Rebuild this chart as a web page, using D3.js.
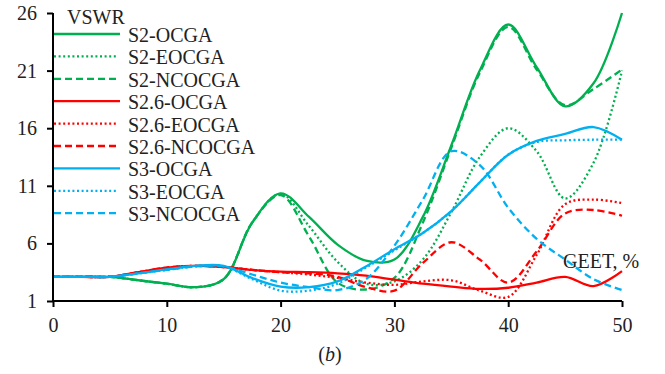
<!DOCTYPE html>
<html>
<head>
<meta charset="utf-8">
<script src="https://cdn.jsdelivr.net/npm/d3@7"></script>
<style>
  body { margin: 0; background: #fff; }
  text { font-family: "Liberation Serif", "Times New Roman", serif; fill: #222; }
</style>
</head>
<body>
<div id="chart-area"></div>
<script>

// GEET, %  (x values shared by every series)
var geet = [0, 2.5, 5, 7.5, 10, 12.5, 15, 17.5, 20, 22.5, 25, 27.5, 30, 32.5, 35, 37.5, 40, 42.5, 45, 47.5, 50];

var s2_ocga    = [3.1, 3.1, 3.1, 2.8, 2.5, 2.2, 2.9, 7.8, 10.35, 8.3, 5.9, 4.5, 4.6, 8.3, 14.5, 21.0, 25.0, 21.3, 17.9, 19.9, 26.0];
var s2_eocga   = [3.1, 3.1, 3.1, 2.8, 2.5, 2.2, 2.9, 7.8, 10.3, 7.5, 4.4, 2.5, 2.7, 4.6, 8.7, 13.5, 16.0, 14.0, 9.9, 13.0, 21.0];
var s2_ncocga  = [3.1, 3.1, 3.1, 2.8, 2.5, 2.2, 2.9, 7.8, 10.2, 6.6, 2.6, 2.0, 3.0, 7.8, 14.3, 20.8, 24.8, 21.1, 18.0, 19.4, 21.1];
var s26_ocga   = [3.1, 3.1, 3.1, 3.5, 3.9, 4.05, 3.95, 3.7, 3.55, 3.5, 3.4, 3.2, 2.85, 2.5, 2.25, 2.05, 2.15, 2.6, 3.1, 2.3, 3.6];
var s26_eocga  = [3.1, 3.1, 3.1, 3.5, 3.9, 4.05, 3.95, 3.7, 3.5, 3.3, 3.0, 2.6, 2.4, 2.7, 2.8, 1.9, 1.35, 5.0, 9.4, 9.8, 9.5];
var s26_ncocga = [3.1, 3.1, 3.1, 3.5, 3.9, 4.05, 3.95, 3.7, 3.5, 3.4, 3.1, 2.2, 1.9, 4.3, 6.1, 4.6, 2.6, 5.3, 8.6, 8.9, 8.4];
var s3_ocga    = [3.1, 3.1, 3.1, 3.4, 3.75, 4.05, 4.05, 3.0, 2.25, 2.2, 2.7, 4.0, 5.5, 6.9, 8.8, 11.3, 13.7, 14.9, 15.5, 16.1, 15.0];
var s3_eocga   = [3.1, 3.1, 3.1, 3.4, 3.7, 4.0, 4.0, 2.9, 1.9, 1.9, 2.5, 3.9, 5.4, 6.9, 8.8, 11.3, 13.7, 14.8, 14.95, 15.0, 15.0];
var s3_ncocga  = [3.1, 3.1, 3.1, 3.4, 3.7, 4.0, 4.0, 3.3, 2.6, 2.2, 1.95, 2.9, 5.8, 9.8, 14.0, 12.8, 9.1, 6.4, 4.6, 2.9, 1.95];

var names = ["S2-OCGA", "S2-EOCGA", "S2-NCOCGA", "S2.6-OCGA", "S2.6-EOCGA", "S2.6-NCOCGA", "S3-OCGA", "S3-EOCGA", "S3-NCOCGA"];
var values = [s2_ocga, s2_eocga, s2_ncocga, s26_ocga, s26_eocga, s26_ncocga, s3_ocga, s3_eocga, s3_ncocga];

var xTicks = [0, 10, 20, 30, 40, 50];
var yTicks = [1, 6, 11, 16, 21, 26];

var colors = ["#00b050", "#00b050", "#00b050", "#ff0000", "#ff0000", "#ff0000", "#00b0f0", "#00b0f0", "#00b0f0"];
var dashes = [null, "2,2.6", "7,4", null, "2,2.6", "7,4", null, "2,2.6", "7,4"];

var total_width = 665;
var total_height = 374;

var svg = d3.select('#chart-area').append('svg')
            .attr("width", total_width)
            .attr("height", total_height);

var x = d3.scaleLinear().domain([0, 50]).range([53, 622]);
var y = d3.scaleLinear().domain([1, 26]).range([301, 13]);

var line = d3.line()
             .x(function(d) { return x(d[0]); })
             .y(function(d) { return y(d[1]); })
             .curve(d3.curveCatmullRom.alpha(0.5));

// series
values.forEach(function(vals, i) {
  var pts = geet.map(function(g, j) { return [g, vals[j]]; });
  svg.append("path")
     .datum(pts)
     .attr("d", line)
     .attr("fill", "none")
     .attr("stroke", colors[i])
     .attr("stroke-width", 2.3)
     .attr("stroke-dasharray", dashes[i]);
});

// axes
var xAxis = d3.axisBottom(x).tickValues(xTicks).tickSize(6).tickPadding(11);
var yAxis = d3.axisLeft(y).tickValues(yTicks).tickSize(6).tickPadding(10);

var gx = svg.append('g').attr("transform", "translate(0," + 301 + ")").call(xAxis);
var gy = svg.append('g').attr("transform", "translate(" + 53 + ",0)").call(yAxis);

[gx, gy].forEach(function(g) {
  g.select(".domain").attr("stroke", "#000").attr("stroke-width", 2);
  g.selectAll(".tick line").attr("stroke", "#000").attr("stroke-width", 2);
  g.selectAll(".tick text")
   .attr("font-family", "Liberation Serif, serif")
   .attr("font-size", "20px")
   .attr("fill", "#222");
});
gy.select(".domain").attr("d", "M0,301V13");
gx.select(".domain").attr("d", "M53,0H622");

// legend
var legend = svg.append('g');
names.forEach(function(n, i) {
  var ly = 34 + i * 22.4;
  legend.append("line")
        .attr("x1", 54).attr("x2", dashes[i] == "2,2.6" ? 116 : 120)
        .attr("y1", ly).attr("y2", ly)
        .attr("stroke", colors[i])
        .attr("stroke-width", 2.3)
        .attr("stroke-dasharray", dashes[i]);
  legend.append("text")
        .attr("x", 128).attr("y", ly + 8)
        .attr("font-size", "20px")
        .text(n);
});

svg.append("text").attr("x", 67).attr("y", 24).attr("font-size", "20px").text("VSWR");
svg.append("text").attr("x", 563).attr("y", 268).attr("font-size", "20px").text("GEET, %");

var b = svg.append("text").attr("x", 330).attr("y", 361).attr("font-size", "20px")
           .attr("text-anchor", "middle");
b.append("tspan").text("(");
b.append("tspan").attr("font-style", "italic").text("b");
b.append("tspan").text(")");

</script>
</body>
</html>
